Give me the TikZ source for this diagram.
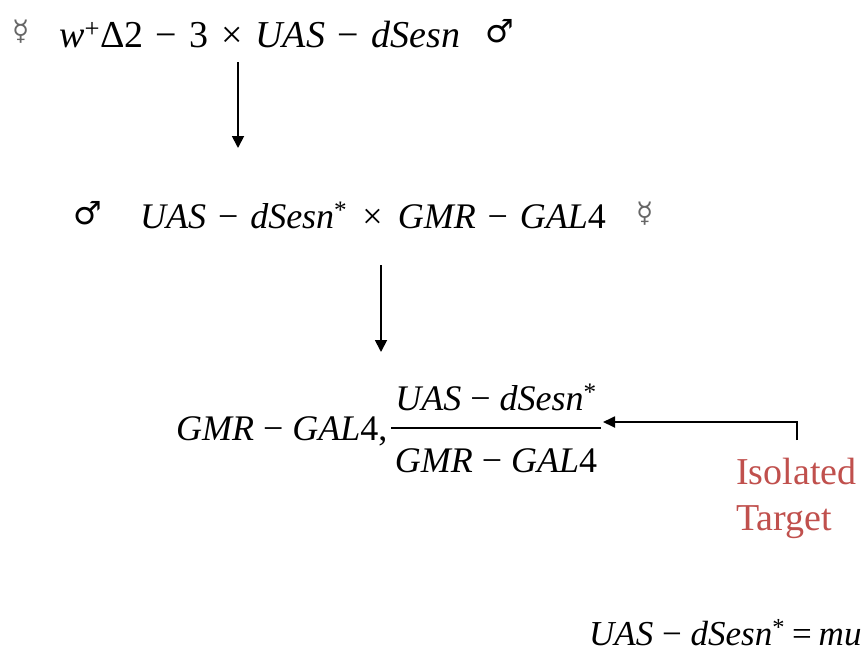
\documentclass[tikz,border=0pt]{standalone}
\usepackage{fontspec}
\setmainfont{Liberation Serif}
\newfontfamily\serf{Liberation Serif}
\newfontfamily\symfont{DejaVu Sans}
\newfontfamily\symbfont{DejaVu Sans Bold}
\usetikzlibrary{arrows.meta}
\definecolor{tred}{HTML}{C0504D}
\definecolor{sgray}{HTML}{666666}
\newcommand{\mi}[1]{\textit{#1}}
\newcommand{\op}[2]{\hspace{#1}#2\hspace{#1}}
\tikzset{
  formula/.style={inner sep=0pt, anchor=base west, font=\serf\fontsize{36}{42}\selectfont},
  fsym/.style={inner sep=0pt, anchor=base west, text=sgray, font=\symfont\fontsize{28}{32}\selectfont},
  msym/.style={inner sep=0pt, anchor=base west, font=\symbfont\fontsize{32}{36}\selectfont},
  flow/.style={line width=1.8pt, -{Triangle[length=12pt,width=12pt]}},
  lbl/.style={inner sep=0pt, align=left, text=tred, font=\serf\fontsize{38}{46}\selectfont}
}
\begin{document}
\begin{tikzpicture}[x=1pt,y=-1pt]
\useasboundingbox (0,0) rectangle (862,654);
% line 1
\node[fsym] (f1) at (12,40) {☿};
\node[formula, font=\serf\fontsize{38}{44}\selectfont] (l1) at (59,47) {\mi{w}\textsuperscript{+}Δ2\op{0.33em}{−}3\op{0.33em}{×}\mi{UAS}\op{0.33em}{−}\mi{dSesn}};
\node[msym] (m1) at (485,42) {♂};
\coordinate (a1s) at (238,62);
\coordinate (a1e) at (238,148);
\draw[flow] (a1s) -- (a1e);
% line 2
\node[msym] (m2) at (73,224) {♂};
\node[formula] (l2) at (140,228) {\mi{UAS}\op{0.33em}{−}\mi{dSesn}\textsuperscript{*}\op{0.42em}{×}\mi{GMR}\op{0.33em}{−}\mi{GAL}4};
\node[fsym] (f2) at (636,222) {☿};
\coordinate (a2s) at (381,265);
\coordinate (a2e) at (381,352);
\draw[flow] (a2s) -- (a2e);
% line 3
\node[formula] (l3) at (176,440) {\mi{GMR}\op{0.25em}{−}\mi{GAL}4,};
\node[formula, anchor=base] (num) at (496,410) {\mi{UAS}\op{0.25em}{−}\mi{dSesn}\textsuperscript{*}};
\node[formula, anchor=base] (den) at (496,472) {\mi{GMR}\op{0.25em}{−}\mi{GAL}4};
\coordinate (barl) at (391,428);
\coordinate (barr) at (601,428);
\draw[line width=1.4pt] (barl) -- (barr);
\coordinate (t0) at (797,440);
\coordinate (t1) at (797,422);
\coordinate (t2) at (603,422);
\draw[line width=1.8pt, -{Triangle[length=12pt,width=11pt]}] (t0) -- (t1) -- (t2);
\node[lbl, anchor=north west] (iso) at (736,458) {Isolated\\Target};
% bottom
\node[formula, font=\serf\fontsize{35}{40}\selectfont] (bot) at (589,645) {\mi{UAS}\op{0.25em}{−}\mi{dSesn}\textsuperscript{*}\op{0.2em}{=}\mi{mu}};
\end{tikzpicture}
\end{document}
